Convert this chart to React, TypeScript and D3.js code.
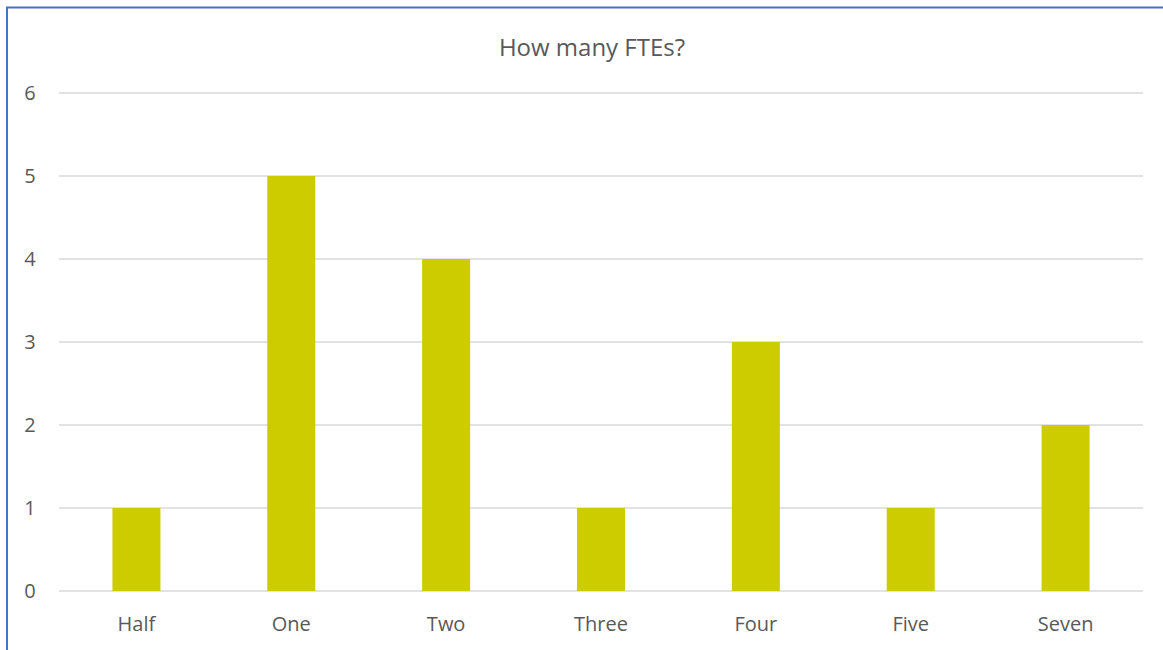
import React from 'react';
import * as d3 from 'd3';

const categories = ['Half', 'One', 'Two', 'Three', 'Four', 'Five', 'Seven'];
const counts = [1, 5, 4, 1, 3, 1, 2];
const yTicks = [0, 1, 2, 3, 4, 5, 6];

const W = 1163;
const H = 650;
const margin = { left: 59, right: 20, top: 93, bottom: 59 };

const App = () => {
  const x = d3
    .scaleBand<string>()
    .domain(categories)
    .range([margin.left, W - margin.right])
    .padding(0);

  const y = d3
    .scaleLinear()
    .domain([0, 6])
    .range([H - margin.bottom, margin.top]);

  const barW = x.bandwidth() * 0.31;
  const font = '"Open Sans", sans-serif';

  return (
    <svg
      width={W}
      height={H}
      style={{ position: 'absolute', left: 0, top: 0, background: '#fff' }}
      fontFamily={font}
    >
      {/* chart frame, cut off at right and bottom */}
      <rect x={7} y={7.5} width={W + 20} height={H + 20} fill="none" stroke="#4472c4" strokeWidth={2} />

      <text x={592} y={56} textAnchor="middle" fontSize={24} fill="#595959">
        How many FTEs?
      </text>

      {yTicks.map((t) => (
        <g key={t}>
          <line x1={margin.left} x2={W - margin.right} y1={y(t)} y2={y(t)} stroke="#d9d9d9" strokeWidth={1.5} />
          <text x={30} y={y(t)} dy="0.36em" textAnchor="middle" fontSize={20} fill="#595959">
            {t}
          </text>
        </g>
      ))}

      {categories.map((c, i) => (
        <rect
          key={c}
          x={(x(c) as number) + x.bandwidth() / 2 - barW / 2}
          y={y(counts[i])}
          width={barW}
          height={y(0) - y(counts[i])}
          fill="#cccc00"
        />
      ))}

      {categories.map((c) => (
        <text
          key={c}
          x={(x(c) as number) + x.bandwidth() / 2}
          y={631}
          textAnchor="middle"
          fontSize={20}
          fill="#595959"
        >
          {c}
        </text>
      ))}
    </svg>
  );
};

export default App;
